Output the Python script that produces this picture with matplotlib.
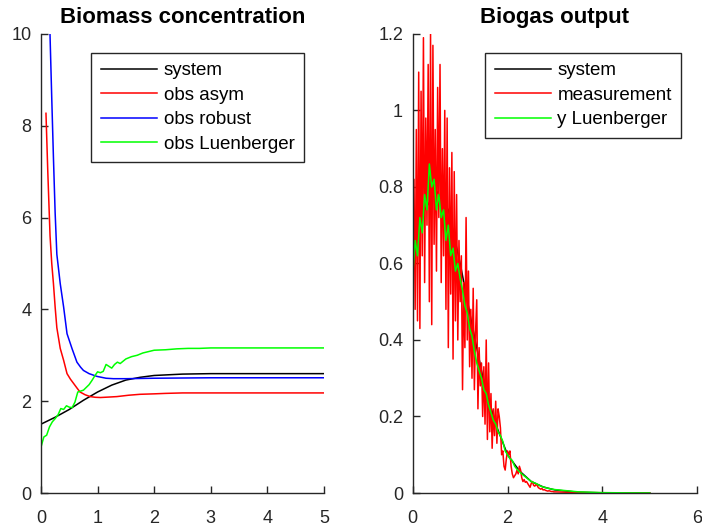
import numpy as np
import matplotlib
matplotlib.use('Agg')
import matplotlib.pyplot as plt

plt.rcParams['font.family'] = ['Liberation Sans', 'DejaVu Sans']

# ---- left panel: biomass concentration ----
t_sys = [0, 0.25, 0.5, 0.75, 1.0, 1.25, 1.5, 1.75, 2.0, 2.5, 3.0, 4.0, 5.0]
x_sys = [1.5, 1.65, 1.82, 2.02, 2.2, 2.35, 2.46, 2.52, 2.56, 2.59, 2.6, 2.6, 2.6]

t_asym = [0.088, 0.12, 0.16, 0.19, 0.22, 0.25, 0.28, 0.34, 0.4, 0.46, 0.52, 0.58, 0.64,
          0.69, 0.78, 0.87, 0.96, 1.05, 1.2, 1.34, 1.55, 1.75, 2.0, 2.2, 2.5, 3.0, 4.0, 5.0]
x_asym = [8.27, 7.0, 5.6, 5.0, 4.56, 4.05, 3.6, 3.15, 2.89, 2.6, 2.48, 2.38, 2.28,
          2.2, 2.14, 2.1, 2.085, 2.08, 2.09, 2.1, 2.13, 2.15, 2.16, 2.17, 2.18, 2.18, 2.18, 2.18]

t_rob = [0.159, 0.19, 0.22, 0.25, 0.28, 0.34, 0.4, 0.46, 0.55, 0.635, 0.7, 0.75, 0.85,
         0.99, 1.15, 1.28, 1.5, 2.0, 3.0, 4.0, 5.0]
x_rob = [10.0, 8.6, 7.3, 6.1, 5.2, 4.56, 4.05, 3.47, 3.14, 2.85, 2.74, 2.67, 2.6,
         2.54, 2.5, 2.49, 2.49, 2.5, 2.51, 2.51, 2.51]

t_lue = [0, 0.05, 0.1, 0.15, 0.2, 0.25, 0.3, 0.35, 0.4, 0.45, 0.5, 0.55, 0.6, 0.65, 0.7,
         0.75, 0.8, 0.85, 0.9, 0.95, 1.0, 1.05, 1.1, 1.15, 1.2, 1.25, 1.3, 1.35, 1.4, 1.5,
         1.6, 1.7, 1.8, 1.9, 2.0, 2.2, 2.4, 2.6, 2.8, 3.0, 3.5, 4.0, 4.5, 5.0]
x_lue = [1.0, 1.22, 1.26, 1.44, 1.55, 1.62, 1.7, 1.84, 1.82, 1.9, 1.87, 1.86, 1.98, 2.2, 2.22,
         2.24, 2.3, 2.36, 2.45, 2.55, 2.64, 2.62, 2.65, 2.8, 2.76, 2.72, 2.8, 2.85, 2.82, 2.92,
         2.97, 3.0, 3.05, 3.08, 3.11, 3.12, 3.14, 3.15, 3.15, 3.16, 3.16, 3.16, 3.16, 3.16]

# ---- right panel: biogas output ----
t_gas = [0, 0.25, 0.5, 0.75, 1.0, 1.25, 1.5, 1.75, 2.0, 2.25, 2.5, 2.75, 3.0, 3.5, 4.0, 5.0]
y_gas = [0.62, 0.74, 0.79, 0.74, 0.6, 0.44, 0.29, 0.18, 0.1, 0.058, 0.03, 0.016, 0.008,
         0.002, 0.0005, 0.0]

# measurement sampled every 0.025 from 0 to 3, then a short tail
meas_head = [0.62, 0.82, 0.48, 0.95, 0.45, 1.10, 0.43, 1.05, 0.62, 1.19,
             0.55, 0.98, 0.70, 1.12, 0.50, 1.20, 0.44, 1.17, 0.65, 0.95,
             0.58, 1.06, 0.72, 1.12, 0.55, 0.90, 0.62, 1.00, 0.48, 0.98,
             0.38, 0.85, 0.52, 0.89, 0.35, 0.84, 0.45, 0.78, 0.40, 0.66,
             0.50, 0.62, 0.27, 0.55, 0.38, 0.72, 0.40, 0.58, 0.33, 0.48,
             0.30, 0.535, 0.27, 0.42, 0.505, 0.22, 0.38, 0.28, 0.34, 0.20,
             0.33, 0.18, 0.40, 0.14, 0.34, 0.16, 0.26, 0.117, 0.22, 0.15,
             0.24, 0.13, 0.22, 0.20, 0.17, 0.10, 0.11, 0.07, 0.06, 0.09,
             0.11, 0.10, 0.11, 0.07, 0.05, 0.04, 0.045, 0.05, 0.06, 0.05,
             0.07, 0.06, 0.04, 0.03, 0.035, 0.028, 0.03, 0.025, 0.02, 0.015,
             0.025, 0.03, 0.02, 0.018, 0.022, 0.02, 0.014, 0.012, 0.01, 0.012,
             0.008, 0.009, 0.007, 0.006, 0.005, 0.006, 0.005, 0.004, 0.004, 0.003,
             0.003]
t_meas_tail = [3.25, 3.5, 3.75, 4.0, 4.5, 5.0]
meas_tail = [0.002, 0.0015, 0.001, 0.0008, 0.0005, 0.0003]

t_ylue = [0, 0.05, 0.1, 0.15, 0.2, 0.25, 0.3, 0.35, 0.4, 0.45, 0.5, 0.55, 0.6, 0.65, 0.7,
          0.75, 0.8, 0.85, 0.9, 0.95, 1.0, 1.05, 1.1, 1.15, 1.2, 1.25, 1.3, 1.35, 1.4, 1.45,
          1.5, 1.55, 1.6, 1.65, 1.7, 1.75, 1.8, 1.85, 1.9, 1.95, 2.0, 2.05, 2.1, 2.15, 2.2,
          2.25, 2.3, 2.4, 2.5, 2.6, 2.7, 2.8, 2.9, 3.0, 3.25, 3.5, 4.0, 4.5, 5.0]
y_ylue = [0.57, 0.66, 0.62, 0.72, 0.68, 0.78, 0.74, 0.86, 0.80, 0.82, 0.74, 0.78, 0.72, 0.74, 0.66,
          0.70, 0.62, 0.64, 0.58, 0.60, 0.56, 0.53, 0.49, 0.47, 0.43, 0.41, 0.37, 0.34, 0.32, 0.30,
          0.27, 0.26, 0.23, 0.21, 0.19, 0.18, 0.16, 0.15, 0.135, 0.11, 0.10, 0.09, 0.085, 0.07, 0.062,
          0.056, 0.05, 0.04, 0.03, 0.025, 0.018, 0.014, 0.011, 0.009, 0.006, 0.003, 0.001, 0.0005, 0.0003]

t_meas = list(np.linspace(0, 3, len(meas_head))) + t_meas_tail
y_meas = meas_head + meas_tail

fig = plt.figure(figsize=(7.02, 5.29), dpi=100)
ax1 = fig.add_axes([0.0584, 0.068, 0.403, 0.868])
ax2 = fig.add_axes([0.588, 0.068, 0.405, 0.868])

ax1.plot(t_sys, x_sys, color='black', lw=1.1, label='system')
ax1.plot(t_asym, x_asym, color='red', lw=1.1, label='obs asym')
ax1.plot(t_rob, x_rob, color='blue', lw=1.1, label='obs robust')
ax1.plot(t_lue, x_lue, color='#00ff00', lw=1.1, label='obs Luenberger')
ax1.set_xlim(0, 5)
ax1.set_ylim(0, 10)
ax1.set_xticks([0, 1, 2, 3, 4, 5])
ax1.set_yticks([0, 2, 4, 6, 8, 10])
ax1.set_title('Biomass concentration', fontsize=16, fontweight='bold', pad=8)

ax2.plot(t_gas, y_gas, color='black', lw=1.1, label='system')
ax2.plot(t_meas, y_meas, color='red', lw=1.1, label='measurement')
ax2.plot(t_ylue, y_ylue, color='#00ff00', lw=1.1, label='y Luenberger')
ax2.set_xlim(0, 6)
ax2.set_ylim(0, 1.2)
ax2.set_xticks([0, 2, 4, 6])
ax2.set_yticks([0, 0.2, 0.4, 0.6, 0.8, 1.0, 1.2])
ax2.set_yticklabels(['0', '0.2', '0.4', '0.6', '0.8', '1', '1.2'])
ax2.set_title('Biogas output', fontsize=16, fontweight='bold', pad=8)

anchors = {ax1: (0.929, 0.959), ax2: (0.944, 0.959)}
for ax in (ax1, ax2):
    ax.spines['top'].set_visible(False)
    ax.spines['right'].set_visible(False)
    for s in ('left', 'bottom'):
        ax.spines[s].set_color('#262626')
        ax.spines[s].set_linewidth(1)
    ax.tick_params(direction='in', length=5, width=1, colors='#262626', labelsize=13)
    ax.tick_params(axis='x', pad=12)
    ax.tick_params(axis='y', pad=7)
    leg = ax.legend(loc='upper right', fontsize=13.5, handlelength=3.0, handletextpad=0.35,
                    frameon=True, fancybox=False, framealpha=1, borderpad=0.5,
                    labelspacing=0.4, borderaxespad=0, bbox_to_anchor=anchors[ax])
    leg.get_frame().set_edgecolor('#262626')
    leg.get_frame().set_linewidth(1)

fig.savefig('out.png', dpi=100)
